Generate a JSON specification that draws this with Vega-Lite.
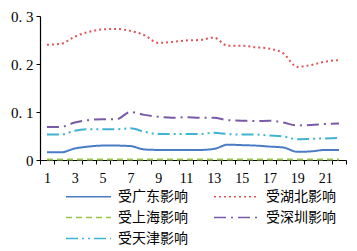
{
  "$schema": "https://vega.github.io/schema/vega-lite/v6.json",
  "width": 306,
  "height": 144,
  "autosize": "none",
  "padding": {"left": 40, "top": 16, "right": 11, "bottom": 91},
  "background": "white",
  "datasets": {
    "d": [
      {"k": 1, "s": "受广东影响", "v": 0.016}, {"k": 2, "s": "受广东影响", "v": 0.016}, {"k": 3, "s": "受广东影响", "v": 0.024}, {"k": 4, "s": "受广东影响", "v": 0.028}, {"k": 5, "s": "受广东影响", "v": 0.030}, {"k": 6, "s": "受广东影响", "v": 0.030}, {"k": 7, "s": "受广东影响", "v": 0.029}, {"k": 8, "s": "受广东影响", "v": 0.022}, {"k": 9, "s": "受广东影响", "v": 0.021}, {"k": 10, "s": "受广东影响", "v": 0.021}, {"k": 11, "s": "受广东影响", "v": 0.021}, {"k": 12, "s": "受广东影响", "v": 0.021}, {"k": 13, "s": "受广东影响", "v": 0.023}, {"k": 14, "s": "受广东影响", "v": 0.032}, {"k": 15, "s": "受广东影响", "v": 0.031}, {"k": 16, "s": "受广东影响", "v": 0.030}, {"k": 17, "s": "受广东影响", "v": 0.028}, {"k": 18, "s": "受广东影响", "v": 0.026}, {"k": 19, "s": "受广东影响", "v": 0.017}, {"k": 20, "s": "受广东影响", "v": 0.018}, {"k": 21, "s": "受广东影响", "v": 0.021}, {"k": 22, "s": "受广东影响", "v": 0.021},
      {"k": 1, "s": "受湖北影响", "v": 0.240}, {"k": 2, "s": "受湖北影响", "v": 0.242}, {"k": 3, "s": "受湖北影响", "v": 0.257}, {"k": 4, "s": "受湖北影响", "v": 0.267}, {"k": 5, "s": "受湖北影响", "v": 0.272}, {"k": 6, "s": "受湖北影响", "v": 0.273}, {"k": 7, "s": "受湖北影响", "v": 0.269}, {"k": 8, "s": "受湖北影响", "v": 0.260}, {"k": 9, "s": "受湖北影响", "v": 0.244}, {"k": 10, "s": "受湖北影响", "v": 0.246}, {"k": 11, "s": "受湖北影响", "v": 0.249}, {"k": 12, "s": "受湖北影响", "v": 0.250}, {"k": 13, "s": "受湖北影响", "v": 0.255}, {"k": 14, "s": "受湖北影响", "v": 0.238}, {"k": 15, "s": "受湖北影响", "v": 0.238}, {"k": 16, "s": "受湖北影响", "v": 0.235}, {"k": 17, "s": "受湖北影响", "v": 0.232}, {"k": 18, "s": "受湖北影响", "v": 0.222}, {"k": 19, "s": "受湖北影响", "v": 0.194}, {"k": 20, "s": "受湖北影响", "v": 0.198}, {"k": 21, "s": "受湖北影响", "v": 0.205}, {"k": 22, "s": "受湖北影响", "v": 0.208},
      {"k": 1, "s": "受上海影响", "v": 0.001}, {"k": 2, "s": "受上海影响", "v": 0.001}, {"k": 3, "s": "受上海影响", "v": 0.001}, {"k": 4, "s": "受上海影响", "v": 0.001}, {"k": 5, "s": "受上海影响", "v": 0.001}, {"k": 6, "s": "受上海影响", "v": 0.001}, {"k": 7, "s": "受上海影响", "v": 0.001}, {"k": 8, "s": "受上海影响", "v": 0.001}, {"k": 9, "s": "受上海影响", "v": 0.001}, {"k": 10, "s": "受上海影响", "v": 0.001}, {"k": 11, "s": "受上海影响", "v": 0.001}, {"k": 12, "s": "受上海影响", "v": 0.001}, {"k": 13, "s": "受上海影响", "v": 0.001}, {"k": 14, "s": "受上海影响", "v": 0.001}, {"k": 15, "s": "受上海影响", "v": 0.001}, {"k": 16, "s": "受上海影响", "v": 0.001}, {"k": 17, "s": "受上海影响", "v": 0.001}, {"k": 18, "s": "受上海影响", "v": 0.001}, {"k": 19, "s": "受上海影响", "v": 0.001}, {"k": 20, "s": "受上海影响", "v": 0.001}, {"k": 21, "s": "受上海影响", "v": 0.001}, {"k": 22, "s": "受上海影响", "v": 0.001},
      {"k": 1, "s": "受深圳影响", "v": 0.069}, {"k": 2, "s": "受深圳影响", "v": 0.069}, {"k": 3, "s": "受深圳影响", "v": 0.078}, {"k": 4, "s": "受深圳影响", "v": 0.083}, {"k": 5, "s": "受深圳影响", "v": 0.085}, {"k": 6, "s": "受深圳影响", "v": 0.085}, {"k": 7, "s": "受深圳影响", "v": 0.100}, {"k": 8, "s": "受深圳影响", "v": 0.094}, {"k": 9, "s": "受深圳影响", "v": 0.090}, {"k": 10, "s": "受深圳影响", "v": 0.088}, {"k": 11, "s": "受深圳影响", "v": 0.089}, {"k": 12, "s": "受深圳影响", "v": 0.088}, {"k": 13, "s": "受深圳影响", "v": 0.088}, {"k": 14, "s": "受深圳影响", "v": 0.083}, {"k": 15, "s": "受深圳影响", "v": 0.082}, {"k": 16, "s": "受深圳影响", "v": 0.081}, {"k": 17, "s": "受深圳影响", "v": 0.082}, {"k": 18, "s": "受深圳影响", "v": 0.078}, {"k": 19, "s": "受深圳影响", "v": 0.072}, {"k": 20, "s": "受深圳影响", "v": 0.073}, {"k": 21, "s": "受深圳影响", "v": 0.075}, {"k": 22, "s": "受深圳影响", "v": 0.076},
      {"k": 1, "s": "受天津影响", "v": 0.053}, {"k": 2, "s": "受天津影响", "v": 0.053}, {"k": 3, "s": "受天津影响", "v": 0.061}, {"k": 4, "s": "受天津影响", "v": 0.064}, {"k": 5, "s": "受天津影响", "v": 0.064}, {"k": 6, "s": "受天津影响", "v": 0.064}, {"k": 7, "s": "受天津影响", "v": 0.066}, {"k": 8, "s": "受天津影响", "v": 0.059}, {"k": 9, "s": "受天津影响", "v": 0.054}, {"k": 10, "s": "受天津影响", "v": 0.054}, {"k": 11, "s": "受天津影响", "v": 0.054}, {"k": 12, "s": "受天津影响", "v": 0.054}, {"k": 13, "s": "受天津影响", "v": 0.057}, {"k": 14, "s": "受天津影响", "v": 0.054}, {"k": 15, "s": "受天津影响", "v": 0.053}, {"k": 16, "s": "受天津影响", "v": 0.053}, {"k": 17, "s": "受天津影响", "v": 0.051}, {"k": 18, "s": "受天津影响", "v": 0.049}, {"k": 19, "s": "受天津影响", "v": 0.043}, {"k": 20, "s": "受天津影响", "v": 0.044}, {"k": 21, "s": "受天津影响", "v": 0.045}, {"k": 22, "s": "受天津影响", "v": 0.046}
    ]
  },
  "data": {"name": "d"},
  "mark": {"type": "line", "interpolate": "monotone", "strokeWidth": 2},
  "encoding": {
    "x": {
      "field": "k", "type": "ordinal",
      "scale": {"type": "band", "paddingInner": 0, "paddingOuter": 0},
      "axis": {
        "title": null, "tickBand": "extent", "labelAngle": 0,
        "labelExpr": "datum.value % 2 == 1 ? datum.label : ''",
        "domainColor": "black", "tickColor": "black", "tickSize": 4, "domainWidth": 1.2,
        "labelFont": "Liberation Serif", "labelFontSize": 14, "labelColor": "black",
        "labelPadding": 7, "grid": false
      }
    },
    "y": {
      "field": "v", "type": "quantitative",
      "scale": {"domain": [0, 0.3]},
      "axis": {
        "title": null, "values": [0, 0.1, 0.2, 0.3], "grid": false,
        "labelExpr": "datum.value == 0 ? '0' : replace(format(datum.value, '.1f'), '.', '. ')",
        "domainColor": "black", "tickColor": "black", "tickSize": 4, "domainWidth": 1.2,
        "labelFont": "Liberation Serif", "labelFontSize": 15, "labelColor": "black", "labelPadding": 3
      }
    },
    "color": {
      "field": "s", "type": "nominal",
      "scale": {
        "domain": ["受广东影响", "受湖北影响", "受上海影响", "受深圳影响", "受天津影响"],
        "range": ["#4a7cc6", "#e0555a", "#96c44e", "#7a5aa8", "#3fb3d2"]
      },
      "legend": {
        "title": null, "orient": "none", "legendX": 40, "legendY": 172, "columns": 2, "direction": "horizontal",
        "symbolType": "M-3,0H3", "symbolSize": 225, "symbolStrokeWidth": 1.5,
        "labelFont": "Noto Sans CJK SC", "labelFontSize": 14, "labelColor": "black",
        "columnPadding": 23, "rowPadding": 5, "labelOffset": 21, "labelLimit": 200
      }
    },
    "strokeDash": {
      "field": "s", "type": "nominal",
      "scale": {
        "domain": ["受广东影响", "受湖北影响", "受上海影响", "受深圳影响", "受天津影响"],
        "range": [[1, 0], [2, 3], [6, 4], [12, 5, 2, 5], [12, 4, 2, 4, 2, 4]]
      },
      "legend": {
        "title": null, "orient": "none", "legendX": 40, "legendY": 172, "columns": 2, "direction": "horizontal",
        "symbolType": "M-3,0H3", "symbolSize": 225, "symbolStrokeWidth": 1.5,
        "labelFont": "Noto Sans CJK SC", "labelFontSize": 14, "labelColor": "black",
        "columnPadding": 23, "rowPadding": 5, "labelOffset": 21, "labelLimit": 200
      }
    }
  },
  "config": {"view": {"stroke": null}}
}
